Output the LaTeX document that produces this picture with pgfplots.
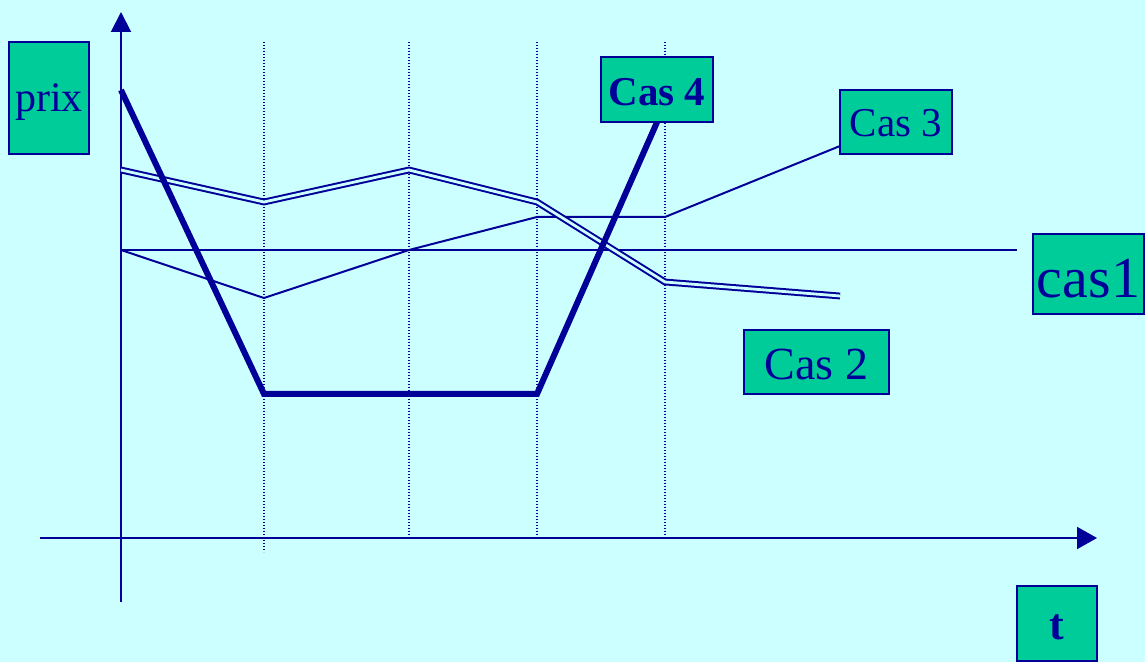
\documentclass[border=0pt]{standalone}
\usepackage{pgfplots}
\pgfplotsset{compat=1.18}
\usepackage{fontspec}
\setmainfont{Liberation Serif}
\usetikzlibrary{arrows.meta}
\definecolor{bgc}{HTML}{CCFFFF}
\definecolor{dblue}{HTML}{000099}
\definecolor{boxg}{HTML}{00CC99}
\begin{document}
\begin{tikzpicture}
\begin{axis}[width=572.5pt, height=331pt, scale only axis,
  xmin=0, xmax=1145, ymin=0, ymax=662, y dir=reverse,
  hide axis, clip=false]
\fill[bgc] (axis cs:0,0) rectangle (axis cs:1145,662);
% dotted verticals
\addplot[dblue, line width=0.8pt, dash pattern=on 0.7pt off 0.8pt] coordinates {(264,42) (264,552)};
\addplot[dblue, line width=0.8pt, dash pattern=on 0.7pt off 0.8pt] coordinates {(409,42) (409,536)};
\addplot[dblue, line width=0.8pt, dash pattern=on 0.7pt off 0.8pt] coordinates {(537,42) (537,536)};
\addplot[dblue, line width=0.8pt, dash pattern=on 0.7pt off 0.8pt] coordinates {(665,42) (665,536)};
% axes
\addplot[dblue, line width=1pt, -{Triangle[length=10pt,width=10pt]}] coordinates {(121,602) (121,12)};
\addplot[dblue, line width=1pt, -{Triangle[length=10pt,width=11pt]}] coordinates {(40,538) (1097,538)};
% cas 1
\addplot[dblue, line width=1pt] coordinates {(121,250) (1017,250)};
% cas 3
\addplot[dblue, line width=1pt] coordinates {(121,250) (264,298) (409,250) (537,217) (665,217) (840,146)};
% cas 2 (double line)
\addplot[dblue, line width=1pt, double=bgc, double distance=1.4pt] coordinates {(121,170) (264,202) (409,170) (537,202) (665,282) (840,296)};
% cas 4
\addplot[dblue, line width=3pt] coordinates {(121,90) (264,394) (537,394) (658,120)};
% labels
\tikzset{box/.style={draw=dblue, fill=boxg, line width=1pt, inner sep=0pt, anchor=center},
         txt/.style={text=dblue, inner sep=0pt, anchor=center}}
\node[box, minimum width=40pt, minimum height=56pt] at (axis cs:49,98) {};
\node[txt, yshift=-2pt, font=\fontsize{21}{24}\selectfont] at (axis cs:49,98) {prix};
\node[box, minimum width=56pt, minimum height=32.5pt] at (axis cs:657,89.5) {};
\node[txt, yshift=-1.5pt, font=\fontsize{20.5}{24}\selectfont\bfseries] at (axis cs:657,89.5) {Cas 4};
\node[box, minimum width=56pt, minimum height=32pt] at (axis cs:896,122) {};
\node[txt, yshift=-0.5pt, font=\fontsize{20.5}{24}\selectfont] at (axis cs:896,122) {Cas 3};
\node[box, minimum width=55.5pt, minimum height=40pt] at (axis cs:1088.5,274) {};
\node[txt, yshift=-2.5pt, font=\fontsize{29}{32}\selectfont] at (axis cs:1088.5,274) {cas1};
\node[box, minimum width=72.5pt, minimum height=32pt] at (axis cs:816.5,362) {};
\node[txt, yshift=-1pt, font=\fontsize{23}{26}\selectfont] at (axis cs:816.5,362) {Cas 2};
\node[box, minimum width=40pt, minimum height=37.5pt] at (axis cs:1057,623.5) {};
\node[txt, yshift=-2pt, font=\fontsize{22}{24}\selectfont\bfseries] at (axis cs:1057,623.5) {t};
\end{axis}
\end{tikzpicture}
\end{document}
